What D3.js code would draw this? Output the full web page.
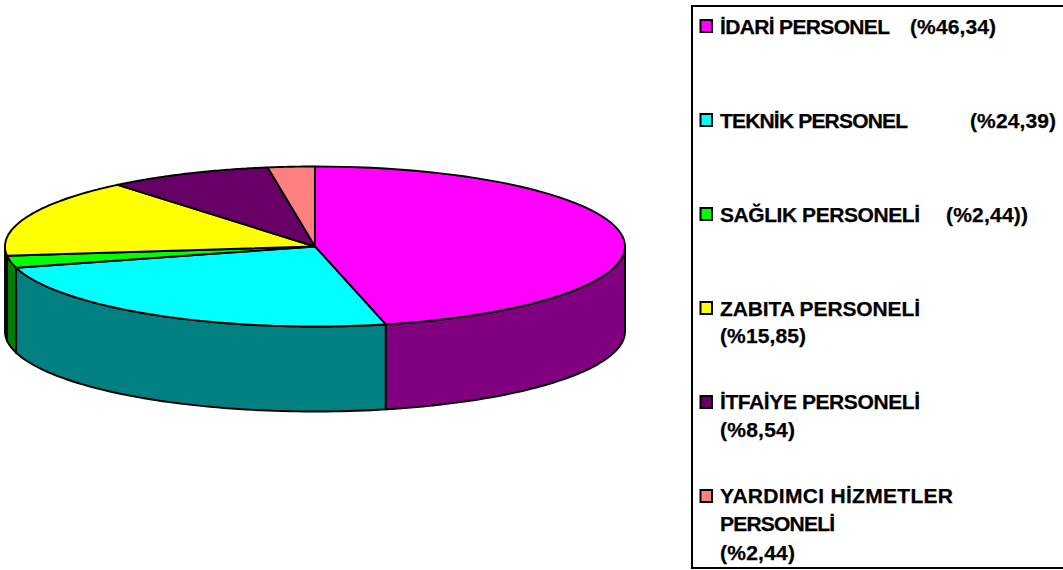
<!DOCTYPE html>
<html><head><meta charset="utf-8">
<script src="https://cdn.jsdelivr.net/npm/d3@7/dist/d3.min.js"></script>
<style>html,body{margin:0;padding:0;background:#fff}svg{display:block}text{font-family:"Liberation Sans",Arial,sans-serif;font-weight:bold;fill:#000;stroke:#000;stroke-width:.25px}</style>
</head><body><script>
const categories=["İDARİ PERSONEL","TEKNİK PERSONEL","SAĞLIK PERSONELİ","ZABITA PERSONELİ","İTFAİYE PERSONELİ","YARDIMCI HİZMETLER PERSONELİ"];
const values=[46.34,24.39,2.44,15.85,8.54,2.44];
const topColors=["#ff00ff","#00ffff","#00ff00","#ffff00","#660066","#ff8080"];
const sideColors=["#800080","#008080","#008000","#808000","#330033","#804040"];
const legendText=["İDARİ PERSONEL","(%46,34)","TEKNİK PERSONEL","(%24,39)","SAĞLIK PERSONELİ","(%2,44))","ZABITA PERSONELİ","(%15,85)","İTFAİYE PERSONELİ","(%8,54)","YARDIMCI HİZMETLER","PERSONELİ","(%2,44)"];

// layout of the legend text runs, kept apart from the data above
const runX=[720,910,720,970,720,946,720,720,720,720,720,720,720];
const runY=[34,34,128,128,222,222,316,343,409,437,503,531,560];
const runW=[170,86,188,86,200,82,200,86,200,75,233,115,75];
const swatchY=[20,114,208,302,396,490];

const W=1063,H=570,cx=315,cy=246.5,rx=310,ry=80,depth=85,sw=1.9;
const svg=d3.select("body").append("svg").attr("width",W).attr("height",H);
const pie=d3.pie().sort(null).value(d=>d.v);
const arcs=pie(values.map((v,i)=>({v,i})));
const px=a=>cx+rx*Math.sin(a), py=a=>cy-ry*Math.cos(a);
const arcPts=(a0,a1)=>d3.range(0,65).map(k=>{const a=a0+(a1-a0)*k/64;return [px(a),py(a)];});
const line=d3.line();

// side walls: only the front half of the rim (90deg to 270deg) can be seen
const lo=Math.PI/2, hi=3*Math.PI/2;
const walls=svg.append("g");
arcs.forEach(d=>{
  const a0=Math.max(d.startAngle,lo),a1=Math.min(d.endAngle,hi);
  if(a1<=a0)return;
  const t=arcPts(a0,a1), b=t.slice().reverse().map(p=>[p[0],p[1]+depth]);
  walls.append("path").attr("d",line(t.concat(b))+"Z")
    .attr("fill",sideColors[d.data.i]).attr("stroke","#000").attr("stroke-width",sw).attr("stroke-linejoin","round");
});
// top face
const tops=svg.append("g");
arcs.forEach(d=>{
  const pts=[[cx,cy]].concat(arcPts(d.startAngle,d.endAngle));
  tops.append("path").attr("d",line(pts)+"Z")
    .attr("fill",topColors[d.data.i]).attr("stroke","#000").attr("stroke-width",sw).attr("stroke-linejoin","round");
});

// legend
svg.append("rect").attr("x",692).attr("y",6).attr("width",W+10-692).attr("height",562)
  .attr("fill","none").attr("stroke","#000").attr("stroke-width",2);
legendText.forEach((s,i)=>{
  svg.append("text").attr("x",runX[i]).attr("y",runY[i]).attr("font-size",21)
    .attr("textLength",runW[i]).attr("lengthAdjust","spacing").text(s);
});
categories.forEach((c,i)=>{
  svg.append("rect").attr("x",700.5).attr("y",swatchY[i]).attr("width",11.5).attr("height",12)
    .attr("fill",topColors[i]).attr("stroke","#000").attr("stroke-width",2);
});
</script></body></html>
